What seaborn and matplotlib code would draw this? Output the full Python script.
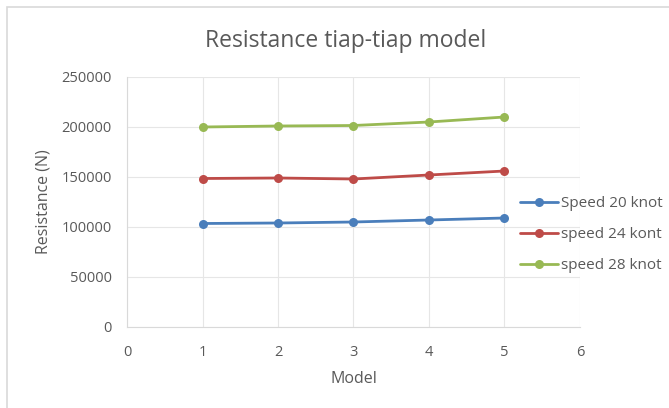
import matplotlib
matplotlib.use("Agg")
import matplotlib.pyplot as plt
import seaborn as sns
import pandas as pd
from matplotlib.patches import Rectangle

models = [1, 2, 3, 4, 5]
speed20 = [103500, 104000, 105000, 107000, 109000]
speed24 = [148500, 149000, 148000, 152000, 156000]
speed28 = [200000, 201000, 201500, 205000, 210000]
series_names = ["Speed 20 knot", "speed 24 kont", "speed 28 knot"]
colors = ["#4A7EBB", "#BE4B48", "#98B954"]

df = pd.DataFrame({
    "Model": models * 3,
    "Resistance": speed20 + speed24 + speed28,
    "Series": [series_names[0]] * 5 + [series_names[1]] * 5 + [series_names[2]] * 5,
})

sns.set_style("white")
plt.rcParams["font.family"] = ["Open Sans", "DejaVu Sans"]

fig = plt.figure(figsize=(6.69, 4.08), dpi=100)
ax = fig.add_axes([127 / 669, 1 - 327 / 408, (580 - 127) / 669, 250 / 408])

sns.lineplot(data=df, x="Model", y="Resistance", hue="Series", palette=colors,
             marker="o", markersize=6.5, markeredgewidth=0, linewidth=2,
             ax=ax, legend=True)

ax.set_xlim(0, 6)
ax.set_ylim(0, 250000)
ax.set_xticks(range(0, 7))
ax.set_yticks(range(0, 250001, 50000))
ax.grid(True, color="#E6E6E6", linewidth=0.8)
ax.set_axisbelow(True)
for s in ["top", "right"]:
    ax.spines[s].set_visible(False)
ax.spines["left"].set_color("#D9D9D9")
ax.spines["bottom"].set_color("#D9D9D9")
ax.tick_params(axis="both", length=0, labelsize=10.5, labelcolor="#595959")
ax.tick_params(axis="x", pad=13)
ax.tick_params(axis="y", pad=11)
ax.set_xlabel("Model", fontsize=11.5, color="#595959", labelpad=8)
ax.set_ylabel("Resistance (N)", fontsize=11.5, color="#595959", labelpad=7)

handles, labels = ax.get_legend_handles_labels()
if ax.get_legend():
    ax.get_legend().remove()
leg = fig.legend(handles, labels, loc="upper left",
                 bbox_to_anchor=(520 / 669, 1 - 196 / 408),
                 bbox_transform=fig.transFigure, frameon=False,
                 fontsize=11, labelspacing=1.05, handlelength=2.5,
                 handletextpad=0.2, borderpad=0, borderaxespad=0)
for t in leg.get_texts():
    t.set_color("#595959")

fig.text(346 / 669, 1 - 41 / 408, "Resistance tiap-tiap model", ha="center", va="center",
         fontsize=16.5, color="#595959")

fig.patches.append(Rectangle((7 / 669, -0.01), 1.0, 1 - 7 / 408 + 0.01,
                             transform=fig.transFigure, fill=False,
                             edgecolor="#D9D9D9", linewidth=1.2))

fig.savefig("out.png", dpi=100, facecolor="white")
